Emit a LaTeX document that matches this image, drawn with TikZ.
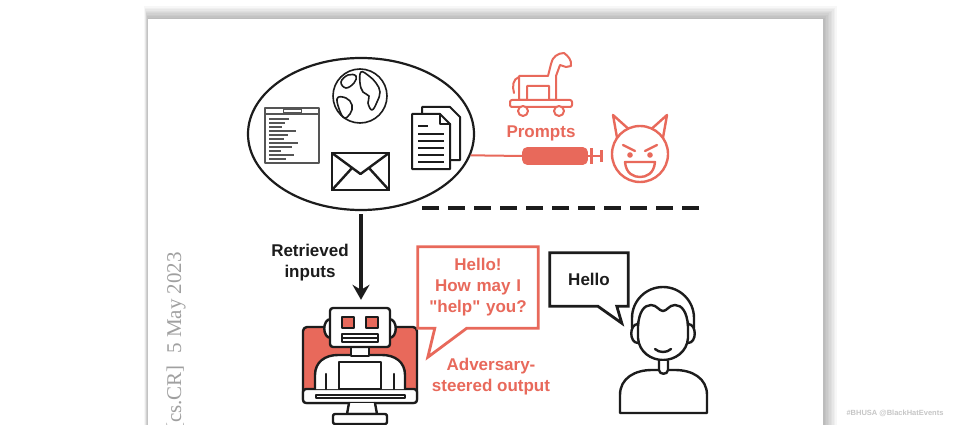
\documentclass[tikz,border=0pt]{standalone}
\usepackage{fontspec}
\setmainfont{Liberation Sans}
\newfontfamily\stampfont{Liberation Serif}
\usetikzlibrary{arrows.meta,positioning,shapes.geometric,calc}
\definecolor{atkRed}{HTML}{E8695B}
\definecolor{inkBlack}{HTML}{1C1C1C}
\definecolor{codeGray}{HTML}{555555}
\definecolor{stampGray}{HTML}{A0A0A0}

\begin{document}
\begin{tikzpicture}[
  x=1pt, y=-1pt,
  icon/.style={draw=inkBlack, line width=2.4pt, line join=round, line cap=round},
  thinicon/.style={draw=inkBlack, line width=1.6pt, line join=round, line cap=round},
  redicon/.style={draw=atkRed, line width=2.4pt, line join=round, line cap=round},
  tagtext/.style={font=\fontsize{17}{21}\selectfont\bfseries, text=inkBlack, align=center, inner sep=0pt},
  redtext/.style={tagtext, text=atkRed},
  bubble/.style={line width=2.8pt, line join=miter},
  divider/.style={line width=4pt, draw=inkBlack, dash pattern=on 17pt off 9pt},
  flowarrow/.style={-{Stealth[length=15pt,width=17pt,inset=5pt]}, line width=3.6pt, draw=inkBlack},
  stamp/.style={font=\stampfont\fontsize{21}{21}\selectfont, text=stampGray, inner sep=0pt}
]
\useasboundingbox (0,0) rectangle (968,425);
\fill[white] (0,0) rectangle (968,425);
\foreach \s in {1,...,9}
  \fill[black, opacity=0.03] ({148-\s*0.4},{19-\s*1.4}) rectangle ({823+\s*1.5},440);
\fill[white] (148,19) rectangle (823,440);

\node[stamp, rotate=90, anchor=east] (stamp) at (176,252) {[cs.CR]\hspace{0.55em}5 May 2023};
\node[font=\fontsize{7.5}{8}\selectfont\bfseries, text=gray!45] (tag) at (895,413) {\#BHUSA @BlackHatEvents};

% retrieved sources
\node[ellipse, draw=inkBlack, line width=2.2pt, minimum width=226, minimum height=152] (sources) at (361,134) {};

\begin{scope}[shift={(360,96)}]
  \draw[thinicon] (0,0) circle (27);
  \draw[thinicon] plot[smooth cycle, tension=0.7] coordinates {(-19,-14) (-12,-21) (-4,-20) (-6,-13) (-14,-8)};
  \draw[thinicon] plot[smooth cycle, tension=0.7] coordinates {(1,-24) (9,-20) (16,-13) (20,-4) (17,6) (12,14) (8,7) (9,0) (3,-4) (0,-13)};
  \draw[thinicon] plot[smooth cycle, tension=0.7] coordinates {(-23,3) (-14,2) (-8,9) (-10,18) (-17,21)};
\end{scope}

\draw[thinicon, draw=codeGray] (265,108) rectangle (319,163);
\draw[thinicon, draw=codeGray] (265,114) -- (319,114);
\draw[line width=1pt, draw=codeGray] (283,110) rectangle (301,113);
\foreach \y/\w in {119/20,123/16,127/13,131/27,135/19,139/15,143/29,147/23,151/12,155/25,159/17}
  \draw[line width=1.3pt, draw=codeGray] (269,\y) -- ++(\w,0);

\draw[icon] (332,153) rectangle (389,190);
\draw[icon] (332,153) -- (360.5,174) -- (389,153);
\draw[icon] (332,190) -- (352,168);
\draw[icon] (389,190) -- (369,168);

\draw[thinicon, line width=2pt] (422,113) -- (422,107) -- (450,107) -- (460,117) -- (460,160) -- (451,160);
\draw[thinicon, line width=2pt, fill=white] (412,114) -- (440,114) -- (450,124) -- (450,169) -- (412,169) -- cycle;
\draw[thinicon, line width=2pt] (440,114) -- (440,124) -- (450,124);
\draw[line width=2pt, draw=inkBlack] (418,126) -- (428,126);
\foreach \y in {134,141,148,155,162}
  \draw[line width=2pt, draw=inkBlack] (418,\y) -- (444,\y);

% injected prompts
\draw[redicon, line width=2pt, rounded corners=2] (510,100) rectangle (572,107);
\draw[redicon, line width=2pt, fill=white] (523,111) circle (5) (559,111) circle (5);
\draw[redicon, line width=2pt] (519,100) -- (519,76) -- (548,76) -- (551,64)
  .. controls (552,57) and (558,53) .. (564,53) .. controls (568,56) and (572,60) .. (571,66)
  -- (566,67) -- (560,65) -- (556,76) -- (556,100) -- (549,100) -- (549,86) -- (527,86) -- (527,100) -- cycle;
\draw[redicon, line width=2pt] (519,77) .. controls (513,79) and (512,86) .. (514,93);
\node[redtext] (prompts) at (541,133) {Prompts};

\coordinate (needle) at (523,156);
\draw[draw=atkRed, line width=2pt] (sources.-11) -- (needle);
\draw[redicon, line width=1.6pt, fill=atkRed, rounded corners=4] (523,148) rectangle (587,164);
\draw[draw=atkRed, line width=2.6pt] (587,156) -- (601,156);
\draw[draw=atkRed, line width=3pt] (591,148) -- (591,164);
\draw[draw=atkRed, line width=3pt] (601,150) -- (601,162);

\begin{scope}[shift={(640,154)}]
  \draw[redicon] (215:28) -- (-27,-39) -- (245:28);
  \draw[redicon] (295:28) -- (27,-39) -- (325:28);
  \draw[redicon, fill=white] (0,0) circle (28);
  \draw[redicon] (-17,-9) -- (-5,-3);
  \draw[redicon] (17,-9) -- (5,-3);
  \fill[atkRed] (-10,1) circle (2.8) (10,1) circle (2.8);
  \draw[redicon] (-15,8) -- (15,8) .. controls (14,20) and (6,23) .. (0,23) .. controls (-6,23) and (-14,20) .. (-15,8) -- cycle;
\end{scope}

\draw[divider] (422,208) -- (706,208);

% model output side
\node[minimum width=114, minimum height=118] (robot) at (361,366) {};
\draw[flowarrow, shorten <=3pt, shorten >=7pt] (sources) -- (robot);
\node[tagtext] (retrieved) at (310,263) {Retrieved\\inputs};

\draw[icon, fill=atkRed, rounded corners=4] (303,327) rectangle (417,403);
\draw[icon, fill=white, rounded corners=3] (303,389) rectangle (417,403);
\draw[thinicon] (316,395) rectangle (405,398);
\draw[icon, fill=white] (349,403) -- (347,414) -- (377,414) -- (375,403);
\draw[icon, fill=white, rounded corners=2] (333,414) rectangle (387,424);
\draw[icon, fill=white] (315,389) -- (315,375) .. controls (315,362) and (325,355) .. (338,355)
  -- (382,355) .. controls (395,355) and (405,362) .. (405,375) -- (405,389);
\draw[icon] (326,389) -- (326,374);
\draw[icon] (394,389) -- (394,374);
\draw[icon, fill=white] (339,362) rectangle (381,389);
\draw[icon, fill=white] (351,345) rectangle (369,356);
\draw[icon, fill=white] (331,319) .. controls (322,319) and (322,338) .. (331,338);
\draw[icon, fill=white] (389,319) .. controls (398,319) and (398,338) .. (389,338);
\draw[icon, fill=white, rounded corners=3] (330,308) rectangle (390,347);
\draw[thinicon, fill=atkRed] (342,317) rectangle (354,328) (366,317) rectangle (378,328);
\draw[thinicon] (342,334) rectangle (378,342);
\draw[thinicon] (342,338) -- (378,338);

\node[redtext, text width=118, minimum width=120, minimum height=81] (botBubble) at (478,287.5) {Hello!\\How may I\\\textquotedbl help\textquotedbl\ you?};
\draw[bubble, draw=atkRed] (botBubble.north west) -- (botBubble.north east) -- (botBubble.south east)
  -- ($(botBubble.south west)+(49,0)$) -- ($(botBubble.south west)+(10,29)$)
  -- ($(botBubble.south west)+(17,0)$) -- (botBubble.south west) -- cycle;
\node[redtext] (steered) at (491,377) {Adversary-\\steered output};

% user side
\node[tagtext, minimum width=78, minimum height=53] (userBubble) at (589,279.5) {Hello};
\draw[bubble, draw=inkBlack] (userBubble.north west) -- (userBubble.north east) -- (userBubble.south east)
  -- ($(userBubble.south west)+(67,0)$) -- ($(userBubble.south west)+(72,17)$)
  -- ($(userBubble.south west)+(48,0)$) -- (userBubble.south west) -- cycle;

\node[minimum width=90, minimum height=126] (person) at (663,350) {};
\draw[icon] (632,328) -- (632,318) arc (180:360:31) -- (694,328);
\draw[icon] (638,322) -- (638,338) .. controls (639,352) and (651,360) .. (663,360)
  .. controls (675,360) and (687,352) .. (688,338) -- (688,322);
\draw[icon] (638,326) .. controls (639,312) and (644,305) .. (651,305) .. controls (657,305) and (659,311) .. (663,311)
  .. controls (667,311) and (669,305) .. (675,305) .. controls (682,305) and (687,312) .. (688,326);
\draw[icon] (638,324) .. controls (629,324) and (629,343) .. (638,343);
\draw[icon] (688,324) .. controls (697,324) and (697,343) .. (688,343);
\draw[icon] (655,349) .. controls (659,353) and (667,353) .. (671,349);
\draw[icon, fill=white] (620,413) -- (620,395) .. controls (620,378) and (635,370) .. (652,370)
  -- (675,370) .. controls (692,370) and (707,378) .. (707,395) -- (707,413) -- cycle;
\draw[icon, fill=white] (659,361) -- (659,370) .. controls (659,375) and (668,375) .. (668,370) -- (668,361);
\end{tikzpicture}
\end{document}
